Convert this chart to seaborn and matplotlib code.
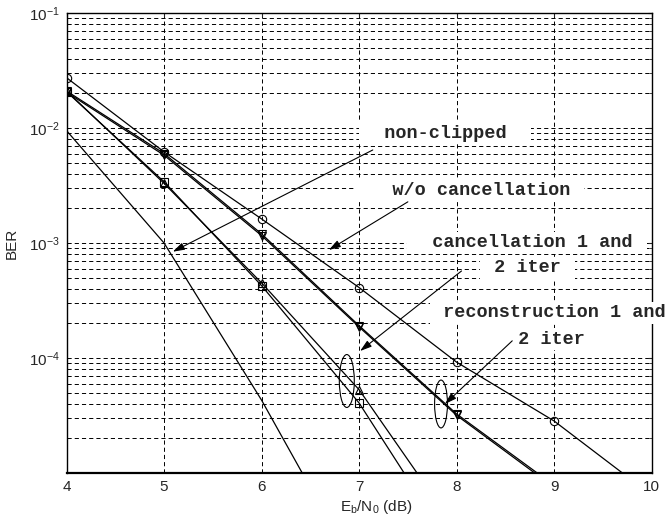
import matplotlib
matplotlib.use('Agg')
import matplotlib.pyplot as plt
import seaborn as sns
from matplotlib.patches import Ellipse
from matplotlib.ticker import LogLocator, NullFormatter

# Eb/N0 (dB) and BER values
snr = [4, 5, 6, 7, 8, 9, 10]
ber_nonclipped = [9.5e-3, 1.0e-3, 4.3e-5, 1.3e-6]
ber_wo_cancel = [2.74e-2, 6.2e-3, 1.62e-3, 4.1e-4, 9.2e-5, 2.83e-5, 6.4e-6]
ber_cancel_1 = [2.1e-2, 3.3e-3, 4.5e-4, 5.3e-5, 3.2e-6]
ber_cancel_2 = [2.07e-2, 3.41e-3, 4.26e-4, 4.06e-5, 1.95e-6]
ber_recon_1 = [2.1e-2, 6.0e-3, 1.2e-3, 1.91e-4, 3.26e-5, 7.8e-6]
ber_recon_2 = [2.05e-2, 5.8e-3, 1.16e-3, 1.86e-4, 3.17e-5, 7.5e-6]

ytick_vals = [1e-4, 1e-3, 1e-2, 1e-1]

sns.set_style('white')
plt.rcParams['font.family'] = ['Liberation Sans', 'DejaVu Sans']
plt.rcParams['mathtext.fontset'] = 'custom'
plt.rcParams['mathtext.rm'] = 'Liberation Sans'
plt.rcParams['mathtext.it'] = 'Liberation Sans'
plt.rcParams['mathtext.default'] = 'regular'
plt.rcParams['lines.scale_dashes'] = False

fig = plt.figure(figsize=(6.65, 5.2), dpi=100)
ax = fig.add_axes([0.100, 0.0904, 0.880, 0.8846])

series = [
    (snr[:4], ber_nonclipped, None),
    (snr, ber_wo_cancel, 'o'),
    (snr[:5], ber_cancel_1, '^'),
    (snr[:5], ber_cancel_2, 's'),
    (snr[:6], ber_recon_1, 'v'),
    (snr[:6], ber_recon_2, 'v'),
]
for xs, ys, m in series:
    sns.lineplot(x=xs, y=ys, ax=ax, color='black', lw=0.9, marker=m,
                 markersize=6, markerfacecolor='none', markeredgecolor='black',
                 markeredgewidth=0.8, legend=False)

ax.set_yscale('log')
ax.set_xlim(4, 10)
ax.set_ylim(1e-5, 1e-1)
ax.set_xticks(snr)
ax.set_yticks(ytick_vals)
ax.yaxis.set_minor_locator(LogLocator(base=10, subs=range(2, 10)))
ax.yaxis.set_minor_formatter(NullFormatter())

grid_kw = dict(color='black', lw=0.7, linestyle=(0, (3, 2.2)))
ax.grid(True, which='major', axis='both', **grid_kw)
ax.grid(True, which='minor', axis='y', **grid_kw)

ax.tick_params(which='both', direction='in', length=3, labelsize=11,
               top=True, right=True, pad=5)
ax.tick_params(which='minor', length=2)
for s in ax.spines.values():
    s.set_color('black')
    s.set_linewidth(1.0)
ax.spines['bottom'].set_linewidth(1.6)

ax.set_xlabel(r'E$_{b}$/N$_{0}$ (dB)', fontsize=11)
ax.xaxis.set_label_coords(0.530, -0.055)
ax.set_ylabel('BER', fontsize=11)
ax.yaxis.set_label_coords(-0.081, 0.5)

# annotations
txt_kw = dict(transform=ax.transAxes, fontsize=13.3, family='Liberation Mono',
              fontweight='bold', ha='center', va='center', clip_on=False,
              bbox=dict(facecolor='white', edgecolor='none', boxstyle='square,pad=0.15'))
ax.text(0.647, 0.739, '  non-clipped  ', **txt_kw)
ax.text(0.690, 0.615, '   w/o cancellation ', **txt_kw)
ax.text(0.787, 0.500, '  cancellation 1 and ', **txt_kw)
ax.text(0.788, 0.446, ' 2 iter ', **txt_kw)
ax.text(0.825, 0.348, ' reconstruction 1 and', **txt_kw)
ax.text(0.829, 0.291, ' 2 iter ', **txt_kw)

arrow_kw = dict(arrowstyle='-|>,head_length=0.7,head_width=0.22', color='black',
                lw=0.8, shrinkA=0, shrinkB=0)
ax.annotate('', xy=(5.09, 8.4e-4), xytext=(7.14, 6.44e-3), arrowprops=arrow_kw)
ax.annotate('', xy=(6.69, 8.7e-4), xytext=(7.50, 2.28e-3), arrowprops=arrow_kw)
ax.annotate('', xy=(7.01, 1.15e-4), xytext=(8.05, 5.71e-4), arrowprops=arrow_kw)
ax.annotate('', xy=(7.88, 3.98e-5), xytext=(8.57, 1.41e-4), arrowprops=arrow_kw)

ax.add_patch(Ellipse((0.479, 0.200), 0.0256, 0.115, transform=ax.transAxes,
                     fill=False, ec='black', lw=0.8))
ax.add_patch(Ellipse((0.640, 0.150), 0.022, 0.104, transform=ax.transAxes,
                     fill=False, ec='black', lw=0.8))

fig.savefig('out.png', dpi=100)
